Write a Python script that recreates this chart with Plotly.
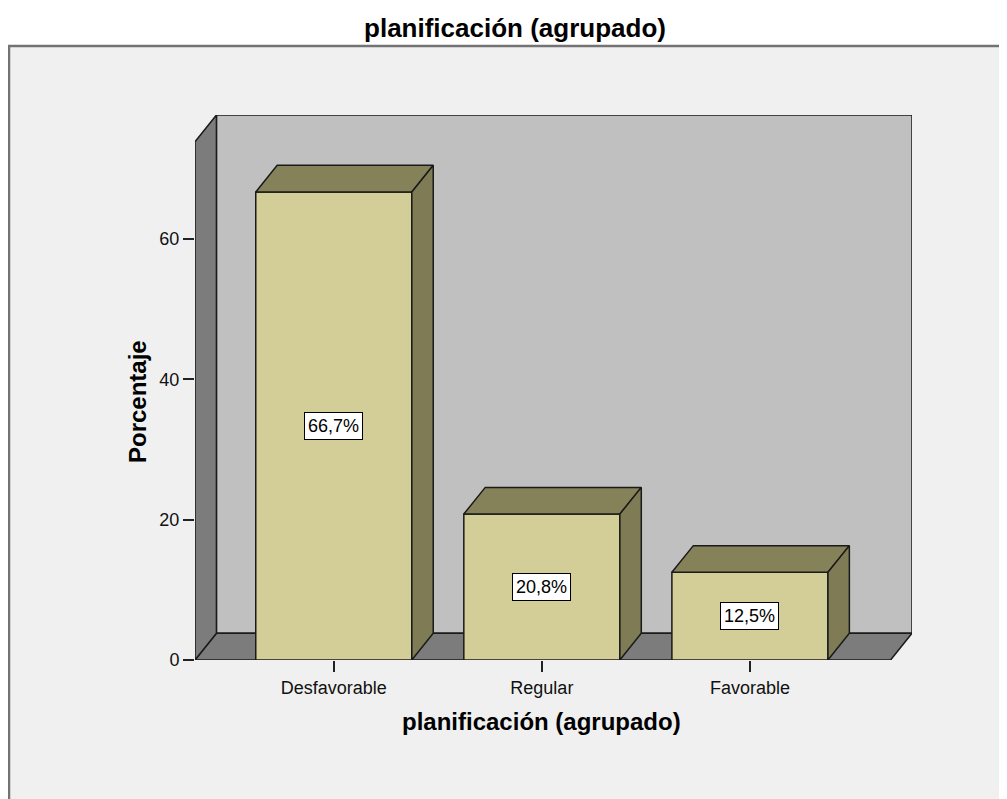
import plotly.graph_objects as go

# ---- data ----
categories = ["Desfavorable", "Regular", "Favorable"]
percentages = [66.7, 20.8, 12.5]
value_labels = ["66,7%", "20,8%", "12,5%"]
y_ticks = [0, 20, 40, 60]
title_text = "planificación (agrupado)"
x_title = "planificación (agrupado)"
y_title = "Porcentaje"

# ---- styling / geometry ----
FONT = "Liberation Sans, Arial, sans-serif"
OFF = 8  # page body margin compensation
W, H = 1007, 799
L, R, T, B = 195 - OFF, 912 - OFF, 115 - OFF, 660 - OFF  # plot area in figure pixels
bar_w = 0.75
dx = 0.103     # depth offset in category units
dy = 3.8       # depth offset in percent units
x_lo, x_hi = -0.667, 2.779
y_hi = 77.67
wall_top = y_hi - dy

front = "#D3CE97"
top_c = "#85825A"
side_c = "#7E7B55"
wall_c = "#7C7C7C"
back_c = "#C0C0C0"
edge = "#1a1a1a"

xs = list(range(len(categories)))

fig = go.Figure()

# front faces
fig.add_trace(go.Bar(
    x=xs, y=percentages, width=bar_w,
    marker=dict(color=front, line=dict(color=edge, width=1.5)),
    hoverinfo="skip", showlegend=False,
))

# top and side faces
for x, v in zip(xs, percentages):
    xl, xr = x - bar_w / 2, x + bar_w / 2
    fig.add_trace(go.Scatter(
        x=[xl, xr, xr + dx, xl + dx, xl], y=[v, v, v + dy, v + dy, v],
        mode="lines", fill="toself", fillcolor=top_c,
        line=dict(color=edge, width=1.5), hoverinfo="skip", showlegend=False,
    ))
    fig.add_trace(go.Scatter(
        x=[xr, xr + dx, xr + dx, xr, xr], y=[0, dy, v + dy, v, 0],
        mode="lines", fill="toself", fillcolor=side_c,
        line=dict(color=edge, width=1.5), hoverinfo="skip", showlegend=False,
    ))


def px_to_paper_x(px):
    return (px - OFF - L) / (R - L)


def px_to_paper_y(py):
    return (B - (py - OFF)) / (B - T)


shapes = []
# outer frame
shapes.append(dict(
    type="rect", xref="paper", yref="paper", layer="below",
    x0=px_to_paper_x(9), x1=px_to_paper_x(1030),
    y0=px_to_paper_y(830), y1=px_to_paper_y(46),
    fillcolor="#F0F0F0", line=dict(color="#737373", width=2.5),
))
# back wall
shapes.append(dict(
    type="rect", xref="x", yref="y", layer="below",
    x0=x_lo + dx, x1=x_hi, y0=dy, y1=wall_top + dy,
    fillcolor=back_c, line=dict(color=edge, width=1.5),
))
# floor
shapes.append(dict(
    type="path", xref="x", yref="y", layer="below",
    path=f"M {x_lo},0 L {x_hi - dx},0 L {x_hi},{dy} L {x_lo + dx},{dy} Z",
    fillcolor=wall_c, line=dict(color=edge, width=1.5),
))
# left wall
shapes.append(dict(
    type="path", xref="x", yref="y", layer="below",
    path=f"M {x_lo},0 L {x_lo},{wall_top} L {x_lo + dx},{wall_top + dy} L {x_lo + dx},{dy} Z",
    fillcolor=wall_c, line=dict(color=edge, width=1.5),
))

annotations = []
for x, v, t in zip(xs, percentages, value_labels):
    annotations.append(dict(
        x=x, y=v / 2, xref="x", yref="y", text=t, showarrow=False,
        font=dict(family=FONT, size=18, color="black"),
        bgcolor="white", bordercolor="black", borderwidth=1, borderpad=3,
    ))
annotations.append(dict(
    x=1, xref="x", y=px_to_paper_y(721), yref="paper", text=f"<b>{x_title}</b>",
    showarrow=False, font=dict(family=FONT, size=24, color="black"),
    xanchor="center", yanchor="middle",
))
annotations.append(dict(
    x=px_to_paper_x(137), xref="paper", y=px_to_paper_y(402), yref="paper",
    text=f"<b>{y_title}</b>", textangle=-90, showarrow=False,
    font=dict(family=FONT, size=24, color="black"),
    xanchor="center", yanchor="middle",
))

fig.update_layout(
    width=W, height=H,
    margin=dict(l=L, r=W - R, t=T, b=H - B, autoexpand=False),
    paper_bgcolor="white", plot_bgcolor="rgba(0,0,0,0)",
    title=dict(text=f"<b>{title_text}</b>", x=(515 - OFF) / W, xanchor="center",
               y=1 - (28 - OFF) / H, yanchor="middle",
               font=dict(family=FONT, size=26, color="black")),
    shapes=shapes, annotations=annotations, showlegend=False,
    xaxis=dict(range=[x_lo, x_hi], tickvals=xs, ticktext=categories,
               ticks="outside", ticklen=11, tickwidth=1.5, tickcolor="#222",
               showgrid=False, zeroline=False, showline=False,
               tickfont=dict(family=FONT, size=18, color="#111"), fixedrange=True),
    yaxis=dict(range=[0, y_hi], tickvals=y_ticks,
               ticks="outside", ticklen=11, tickwidth=1.5, tickcolor="#222",
               showgrid=False, zeroline=False, showline=False,
               tickfont=dict(family=FONT, size=18, color="#111"), fixedrange=True),
)

fig.write_html("out.html")
